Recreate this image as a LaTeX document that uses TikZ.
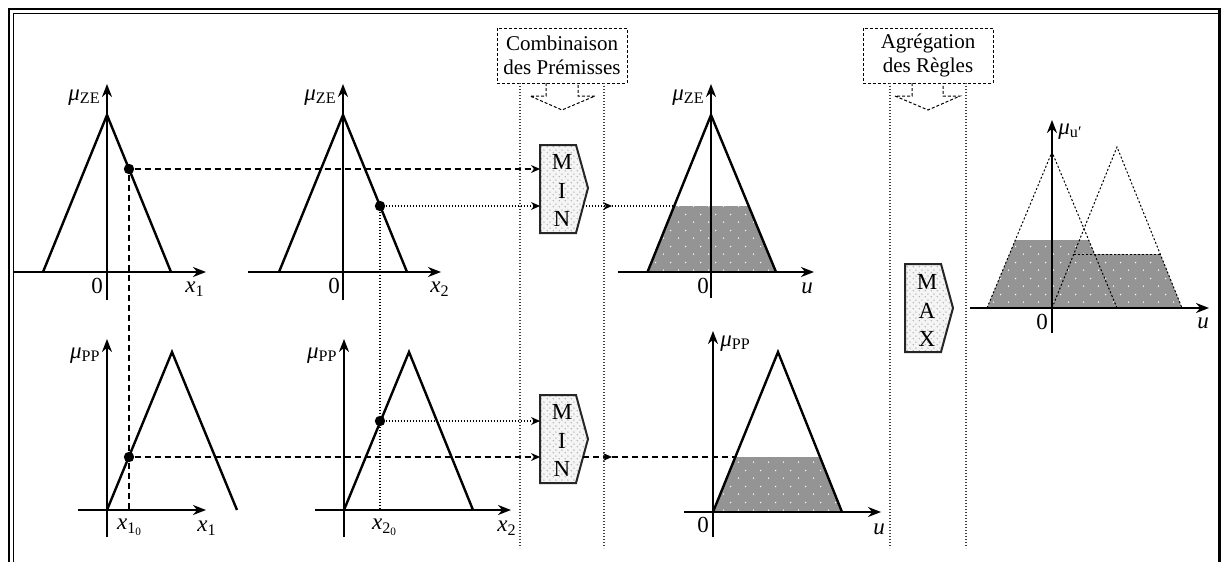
\documentclass[tikz,border=0pt]{standalone}
\usepackage{fontspec}
\setmainfont{Liberation Serif}
\usetikzlibrary{arrows.meta,patterns.meta}
\tikzdeclarepattern{name=wdots, type=uncolored, bounding box={(0,0) and (7.5pt,8pt)}, tile size={(7.5pt,8pt)},
  code={\fill (1.875pt,2pt) circle (0.4pt); \fill (5.625pt,6pt) circle (0.4pt);}}
\tikzdeclarepattern{name=ldots, type=uncolored, bounding box={(0,0) and (3pt,3pt)}, tile size={(3pt,3pt)},
  code={\fill (0.75pt,0.75pt) circle (0.45pt); \fill (2.25pt,2.25pt) circle (0.45pt);}}
\begin{document}
\begin{tikzpicture}[x=0.5pt,y=-0.5pt,
  every node/.style={inner sep=0pt, font=\fontsize{10.5}{12}\selectfont},
  axis/.style={line width=1.2pt, -{Stealth[length=6.5pt,width=5pt]}},
  tri/.style={line width=1.2pt, line join=miter},
  ctip/.style={-{Stealth[length=4.5pt,width=4pt]}},
  dsh/.style={line width=0.6pt, dash pattern=on 3pt off 2pt},
  dtt/.style={line width=0.6pt, dash pattern=on 0.6pt off 0.9pt},
  sep/.style={line width=0.6pt, dash pattern=on 0.7pt off 0.8pt, black!75},
  hdr/.style={line width=0.5pt, dash pattern=on 1.5pt off 1pt},
  tdot/.style={line width=0.5pt, dash pattern=on 1pt off 1pt},
  dotnode/.style={circle, fill=black, inner sep=0pt, minimum size=5.2pt},
  shd/.style={fill=black!42, postaction={pattern=wdots, pattern color=white}},
  boxf/.style={fill=black!4, postaction={pattern=ldots, pattern color=black!30}},
  boxd/.style={line width=1pt, black!85, line join=miter},
  lbl/.style={inner sep=0pt, font=\fontsize{11.5}{13}\selectfont},
  big/.style={inner sep=0pt, font=\fontsize{11.5}{13}\selectfont}
]
\useasboundingbox (0,0) rectangle (1221,562);
% frame
\draw[line width=1.3pt] (9,600) -- (9,9) -- (1225,9);
\draw[line width=0.6pt] (13.5,600) -- (13.5,13.5) -- (1225,13.5);
\draw[line width=1.3pt] (1219.5,9) -- (1219.5,600);

% headers
\draw[hdr] (497,28) rectangle (627,83);
\node[align=center] (comb) at (562,55) {Combinaison\\des Prémisses};
\draw[hdr] (546,83) -- (546,96) -- (530,96) -- (562,110) -- (595,96) -- (578,96) -- (578,83);
\draw[hdr] (863,28) rectangle (993,83);
\node[align=center] (aggr) at (928,55) {Agrégation\\des Règles};
\draw[hdr] (912,83) -- (912,96) -- (895,96) -- (928,110) -- (960,96) -- (943,96) -- (943,83);
% separators
\draw[sep] (520,83) -- (520,548);
\draw[sep] (604,83) -- (604,548);
\draw[sep] (890,83) -- (890,548);
\draw[sep] (966,83) -- (966,548);

% ===== top chart 1
\draw[axis] (13,272) -- (206,272);
\draw[axis] (107,300) -- (107,84);
\draw[tri] (43,272) -- (107,115) -- (171,272);
\node[lbl, anchor=base east] (mu1) at (101,100) {\textit{μ}\textsubscript{ZE}};
\node[lbl] (z1) at (97,286) {0};
\node[lbl] (xl1) at (195,289) {\textit{x}\textsubscript{1}};

% ===== top chart 2
\draw[axis] (248,272) -- (441,272);
\draw[axis] (343,300) -- (343,84);
\draw[tri] (279,272) -- (343,115) -- (407,272);
\node[lbl, anchor=base east] (mu2) at (337,100) {\textit{μ}\textsubscript{ZE}};
\node[lbl] (z2) at (334,286) {0};
\node[lbl] (xl2) at (440,289) {\textit{x}\textsubscript{2}};

% ===== bottom chart 1
\draw[axis] (78,510) -- (206,510);
\draw[axis] (107,537) -- (107,339);
\draw[tri] (107,510) -- (172,352) -- (237,510);
\node[lbl, anchor=base east] (mu3) at (101,358) {\textit{μ}\textsubscript{PP}};
\node[lbl] (xl3) at (130,527) {\textit{x}\textsubscript{1\textsubscript{0}}};
\node[lbl] (xl4) at (207,528) {\textit{x}\textsubscript{1}};

% ===== bottom chart 2
\draw[axis] (315,510) -- (511,510);
\draw[axis] (344,537) -- (344,339);
\draw[tri] (344,510) -- (409,352) -- (473,510);
\node[lbl, anchor=base east] (mu4) at (338,358) {\textit{μ}\textsubscript{PP}};
\node[lbl] (xl5) at (385,527) {\textit{x}\textsubscript{2\textsubscript{0}}};
\node[lbl] (xl6) at (507,528) {\textit{x}\textsubscript{2}};

% ===== top chart 3
\path[shd] (647.5,272) -- (674.2,206) -- (748.7,206) -- (776,272) -- cycle;
\draw[axis] (618,272) -- (814,272);
\draw[axis] (711,298) -- (711,84);
\draw[tri] (647.5,272) -- (711,115) -- (776,272);
\node[lbl, anchor=base east] (mu5) at (705,100) {\textit{μ}\textsubscript{ZE}};
\node[lbl] (z5) at (703,286) {0};
\node[lbl] (xl7) at (807,288) {\textit{u}};

% ===== bottom chart 3
\path[shd] (713,512) -- (735.3,457) -- (820,457) -- (842,512) -- cycle;
\draw[axis] (684,512) -- (881,512);
\draw[axis] (713,537) -- (713,331);
\draw[tri] (713,512) -- (778,352) -- (842,512);
\node[lbl, anchor=base west] (mu6) at (720,346) {\textit{μ}\textsubscript{PP}};
\node[lbl] (z6) at (703,525) {0};
\node[lbl] (xl8) at (879,529) {\textit{u}};

% ===== right chart
\path[shd] (987,308) -- (1015.3,240) -- (1088.7,240) -- (1094.5,254) -- (1160.2,254) -- (1182,308) -- cycle;
\draw[tdot] (987,308) -- (1052,152) -- (1117,308);
\draw[tdot] (1052,308) -- (1117,147) -- (1182,308);
\draw[tdot] (1074,254) -- (1160.2,254);
\draw[axis] (970,308) -- (1209,308);
\draw[axis] (1052,333) -- (1052,120);
\node[lbl, anchor=base west] (mu7) at (1058,134) {\textit{μ}\textsubscript{u′}};
\node[lbl] (z7) at (1042,322) {0};
\node[lbl] (xl9) at (1203,323) {\textit{u}};

% ===== MIN / MAX boxes
\path[boxf] (540,145) -- (576,145) -- (588,188) -- (576,233) -- (540,233) -- cycle;
\draw[boxd] (540,145) -- (576,145) -- (588,188) -- (576,233) -- (540,233) -- cycle;
\node[big] (min1m) at (562,162) {M};
\node[big] (min1i) at (562,191) {I};
\node[big] (min1n) at (562,219) {N};
\path[boxf] (540,395) -- (576,395) -- (588,439) -- (576,483) -- (540,483) -- cycle;
\draw[boxd] (540,395) -- (576,395) -- (588,439) -- (576,483) -- (540,483) -- cycle;
\node[big] (min2m) at (562,412) {M};
\node[big] (min2i) at (562,441) {I};
\node[big] (min2n) at (562,469) {N};
\path[boxf] (905,264) -- (941,264) -- (953,308) -- (941,352) -- (905,352) -- cycle;
\draw[boxd] (905,264) -- (941,264) -- (953,308) -- (941,352) -- (905,352) -- cycle;
\node[big] (maxm) at (927,282) {M};
\node[big] (maxa) at (927,311) {A};
\node[big] (maxx) at (927,339) {X};

% ===== points and connectors
\node[dotnode] (d1) at (129,169) {};
\node[dotnode] (d2) at (380,206) {};
\node[dotnode] (d3) at (129,457) {};
\node[dotnode] (d4) at (380,421) {};
\coordinate (x10) at (129,510);
\coordinate (x20) at (380,510);
\coordinate (m1a) at (540,169);
\coordinate (m1b) at (540,206);
\coordinate (m2a) at (540,421);
\coordinate (m2b) at (540,457);
\coordinate (m1o) at (583,206);
\coordinate (m2o) at (583,457);
\coordinate (t1) at (612,206);
\coordinate (t2) at (612,457);
\coordinate (tz1) at (674.2,206);
\coordinate (tz2) at (735.3,457);

\draw[dsh] (d1) -- (d3);
\draw[dsh] (d3) -- (x10);
\draw[dtt] (d2) -- (d4);
\draw[dtt] (d4) -- (x20);
\draw[dsh,ctip] (d1) -- (m1a);
\draw[dtt,ctip] (d2) -- (m1b);
\draw[dtt,ctip] (d4) -- (m2a);
\draw[dsh,ctip] (d3) -- (m2b);
\draw[dtt,ctip] (m1o) -- (t1);
\draw[dtt] (t1) -- (tz1);
\draw[dsh,ctip] (m2o) -- (t2);
\draw[dsh] (t2) -- (tz2);
\end{tikzpicture}
\end{document}
